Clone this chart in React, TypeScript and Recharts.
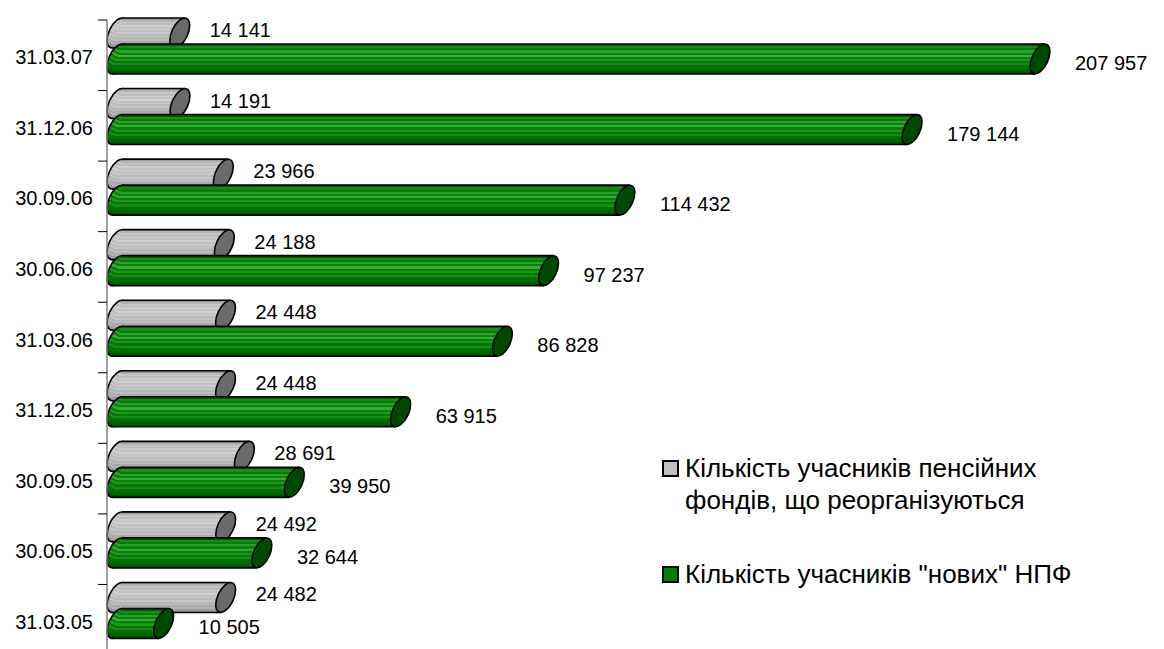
import React from 'react';
import { BarChart, Bar, XAxis, YAxis, LabelList } from 'recharts';

const categories = ['31.03.07', '31.12.06', '30.09.06', '30.06.06', '31.03.06', '31.12.05', '30.09.05', '30.06.05', '31.03.05'];
const reorganizedValues = [14141, 14191, 23966, 24188, 24448, 24448, 28691, 24492, 24482];
const newFundValues = [207957, 179144, 114432, 97237, 86828, 63915, 39950, 32644, 10505];
const seriesNames = ['Кількість учасників пенсійних фондів, що реорганізуються', 'Кількість учасників "нових" НПФ'];
const legendLines = [['Кількість учасників пенсійних', 'фондів, що реорганізуються'], ['Кількість учасників "нових" НПФ']];

const data = categories.map((c, i) => ({ date: c, old: reorganizedValues[i], fresh: newFundValues[i] }));

const FONT = '"Liberation Sans", Arial, sans-serif';
const W = 1164;
const H = 660;
const TOP = 20;
const BOTTOM = 5;
const BAND = (H - TOP - BOTTOM) / categories.length;
const SHIFT = -9;
const EX = 10;

const greyBands = ['#9c9c9c', '#b4b4b4', '#c6c6c6', '#bcbcbc', '#cdcdcd', '#c2c2c2', '#d0d0d0', '#c0c0c0', '#c9c9c9', '#bbbbbb', '#c5c5c5', '#b6b6b6', '#bdbdbd', '#ababab', '#b2b2b2', '#9e9e9e', '#8c8c8c'];
const greenBands = ['#005c00', '#1a8c1a', '#008000', '#2e9e2e', '#0a850a', '#3aa83a', '#068206', '#229422', '#007a00', '#1a8a1a', '#007400', '#006c00', '#006200', '#005400'];

const gradient = (id: string, bands: string[]) => (
  <linearGradient id={id} x1="0" y1="0" x2="0" y2="1">
    {bands.flatMap((c, i) => [
      <stop key={`${i}a`} offset={i / bands.length} stopColor={c} />,
      <stop key={`${i}b`} offset={(i + 1) / bands.length} stopColor={c} />,
    ])}
  </linearGradient>
);

const makeCylinder = (gradId: string, capColor: string) => (props: any) => {
  const { x, y, width, height } = props;
  if (width == null || height == null) return <g />;
  const yy = y + SHIFT;
  const h = height;
  const cy = yy + h / 2;
  const cx0 = x + EX;
  const cx1 = x + EX + width;
  const dx = 5;
  const a = h / 2 + 1;
  const b = 8;
  return (
    <g>
      <ellipse cx={cx0} cy={cy} rx={b} ry={a} transform={`rotate(25 ${cx0} ${cy})`} fill={`url(#${gradId})`} stroke="#000" strokeWidth={1.6} />
      <polygon points={`${cx0 + dx},${yy} ${cx1 + dx},${yy} ${cx1 - dx},${yy + h} ${cx0 - dx},${yy + h}`} fill={`url(#${gradId})`} />
      <line x1={cx0 + dx} y1={yy} x2={cx1 + dx} y2={yy} stroke="#000" strokeWidth={1.6} />
      <line x1={cx0 - dx} y1={yy + h} x2={cx1 - dx} y2={yy + h} stroke="#000" strokeWidth={1.6} />
      <ellipse cx={cx1} cy={cy} rx={b} ry={a} transform={`rotate(25 ${cx1} ${cy})`} fill={capColor} stroke="#000" strokeWidth={1.6} />
    </g>
  );
};

const fmt = (v: number) => String(v).replace(/\B(?=(\d{3})+(?!\d))/g, ' ');

const makeLabel = (gap: number, dy: number) => (props: any) => {
  const { x, y, width, height, value } = props;
  return (
    <text x={x + EX + width + EX + gap} y={y + SHIFT + height / 2 + dy} fontFamily={FONT} fontSize={20} fill="#000" dominantBaseline="central">
      {fmt(value)}
    </text>
  );
};

const AxisTick = (props: any) => {
  const { y, payload, index } = props;
  return (
    <g>
      <line x1={98} x2={107} y1={y - BAND / 2} y2={y - BAND / 2} stroke="#000" strokeWidth={1} />
      {index === categories.length - 1 && <line x1={98} x2={107} y1={y + BAND / 2} y2={y + BAND / 2} stroke="#000" strokeWidth={1} />}
      <text x={93} y={y + 2} textAnchor="end" dominantBaseline="central" fontFamily={FONT} fontSize={20} fill="#000">
        {payload.value}
      </text>
    </g>
  );
};

const LegendBox = () => (
  <div style={{ position: 'absolute', left: 662, top: 452, width: 500, fontFamily: FONT, fontSize: 26, color: '#000', lineHeight: '32px' }}>
    {legendLines.map((lines, i) => (
      <div key={i} style={{ position: 'relative', paddingLeft: 23, marginBottom: i === 0 ? 42 : 0 }} title={seriesNames[i]}>
        <span style={{ position: 'absolute', left: 0, top: 8, width: 13, height: 13, background: i === 0 ? '#c0c0c0' : '#008000', border: '2px solid #000' }} />
        {lines.map((l, j) => (
          <div key={j} style={{ whiteSpace: 'nowrap' }}>{l}</div>
        ))}
      </div>
    ))}
  </div>
);

export default function App() {
  return (
    <div style={{ position: 'absolute', left: 0, top: 0, width: W, height: H, background: '#fff' }}>
      <BarChart width={W} height={H} data={data} layout="vertical" margin={{ top: TOP, right: 14, bottom: BOTTOM, left: 0 }} barSize={30} barGap={-4}>
        <defs>
          {gradient('greyStripe', greyBands)}
          {gradient('greenStripe', greenBands)}
        </defs>
        <XAxis type="number" domain={[0, 235000]} hide />
        <YAxis type="category" dataKey="date" width={107} axisLine={{ stroke: '#808080', strokeWidth: 1.5 }} tickLine={false} tick={<AxisTick />} interval={0} />
        <Bar dataKey="old" name={seriesNames[0]} fill="#c0c0c0" isAnimationActive={false} shape={makeCylinder('greyStripe', '#6a6a6a')}>
          <LabelList dataKey="old" content={makeLabel(20, -3)} />
        </Bar>
        <Bar dataKey="fresh" name={seriesNames[1]} fill="#008000" isAnimationActive={false} shape={makeCylinder('greenStripe', '#004a00')}>
          <LabelList dataKey="fresh" content={makeLabel(25, 4)} />
        </Bar>
      </BarChart>
      <LegendBox />
    </div>
  );
}
